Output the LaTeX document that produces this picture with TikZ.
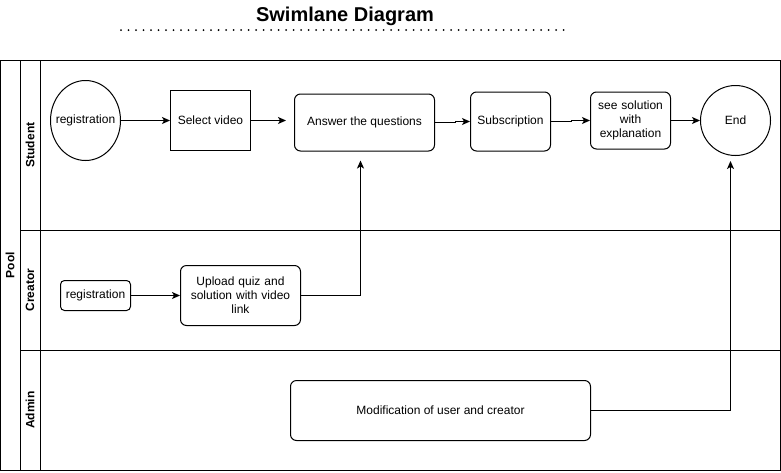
\documentclass[tikz,border=0pt]{standalone}
\usepackage{fontspec}
\setmainfont{Liberation Sans}
\usetikzlibrary{arrows.meta,shapes.geometric}
\begin{document}
\begin{tikzpicture}[x=1pt,y=-1pt,
  font=\fontsize{12}{14}\selectfont,
  line width=1pt,
  lane/.style={draw, line width=1pt},
  lanelabel/.style={rotate=90, font=\fontsize{12}{14}\selectfont\bfseries},
  rbox/.style={draw, rounded corners=6pt, align=center, inner sep=2pt},
  sbox/.style={draw, align=center, inner sep=2pt},
  arr/.style={-{Stealth[length=8pt,width=7pt,inset=2pt]}}]
\useasboundingbox (0,0) rectangle (781,472);

% title
\node[font=\fontsize{20}{24}\selectfont\bfseries] (title) at (345,16) {Swimlane Diagram};
\draw[line width=2pt, line cap=round, dash pattern=on 0pt off 7.5pt] (121,30) -- (571,30);

% pool and lanes
\draw[lane] (0.5,60.5) rectangle (780.5,470.5);
\draw[lane] (20.5,60.5) -- (20.5,470.5);
\draw[lane] (40.5,60.5) -- (40.5,470.5);
\draw[lane] (20.5,230.5) -- (780.5,230.5);
\draw[lane] (20.5,350.5) -- (780.5,350.5);
\node[lanelabel] (pool) at (10,265) {Pool};
\node[lanelabel] (lstudent) at (30,145) {Student};
\node[lanelabel] (lcreator) at (30,290) {Creator};
\node[lanelabel] (ladmin) at (30,410) {Admin};

% student lane
\node[draw, ellipse, minimum width=70pt, minimum height=80pt, inner sep=0pt] (reg1) at (85.5,120.5) {\makebox[0pt]{registration}};
\node[sbox, minimum width=80pt, minimum height=60pt] (sel) at (210.5,120.5) {Select video};
\node[rbox, minimum width=140pt, minimum height=57pt] (ans) at (364.5,122.5) {Answer the questions};
\node[rbox, minimum width=80pt, minimum height=59pt] (sub) at (510.5,121.5) {Subscription};
\node[rbox, minimum width=80pt, minimum height=57pt, text width=70pt] (sol) at (630.5,120.5) {see solution\\with\\explanation};
\node[draw, circle, minimum size=70pt, inner sep=0pt] (end) at (735.5,120.5) {End};

% creator lane
\node[rbox, minimum width=70pt, minimum height=30pt, rounded corners=4pt] (reg2) at (95.5,295.5) {registration};
\node[rbox, minimum width=120pt, minimum height=60pt, text width=112pt] (up) at (240.5,295.5) {Upload quiz and\\solution with video\\link};

% admin lane
\node[rbox, minimum width=300pt, minimum height=60pt] (mod) at (440.5,410.5) {Modification of user and creator};

% connectors
\draw[arr] (reg1.east) -- (sel.west);
\draw[arr, shorten >=8pt] (sel.east) -- (sel.east -| ans.west);
\draw[arr] ([yshift=0.5pt]ans.east) -- ++(20,0) |- (sub.west);
\draw[arr] ([yshift=0.5pt]sub.east) -- ++(20,0) |- (sol.west);
\draw[arr] (sol.east) -- (sol.east -| end.west);
\draw[arr] (reg2.east) -- (up.west);
\draw[arr, shorten >=9pt] (up.east) -| ([xshift=-4pt]ans.south);
\draw[arr, shorten >=5pt] (mod.east) -| ([xshift=-5pt]end.south);
\end{tikzpicture}
\end{document}
